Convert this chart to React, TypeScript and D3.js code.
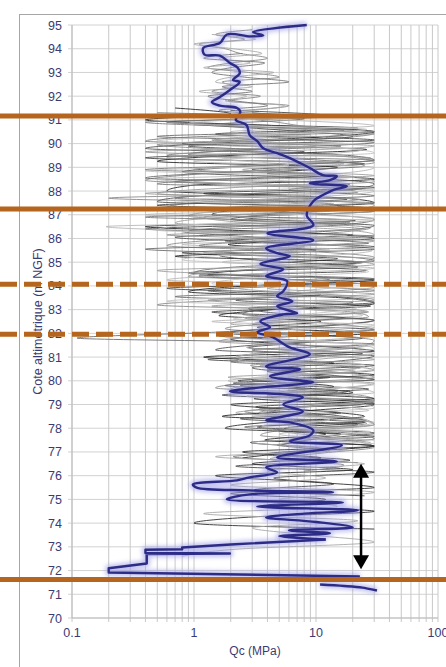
import * as d3 from 'd3';

// Qc profiles (MPa), one value every profileSteps[i] metres from profileTops[i]
const profileA = [2, 14, 0.6, 22, 1.5, 30, 0.9, 8, 0.4, 25, 3, 12, 0.7, 30, 1.2, 18, 0.5, 30, 2.5, 9, 0.4, 20, 1.8, 30, 0.8, 15, 3.5, 26, 1.1, 30, 0.6, 11, 2.2, 28, 1.4, 17, 3, 30, 1.6, 9, 2.8, 24, 1.3, 30, 4, 13, 2.1, 27, 1.7, 30, 3.2, 16, 2.4, 22, 5, 30, 2.9, 11, 3.8, 19, 2.2, 30, 4.5, 14, 3.1, 25];
const profileB = [1.2, 4, 9, 30, 12, 0.5, 3, 18, 30, 6, 1, 0.4, 7, 22, 0.2, 14, 2, 0.9, 5, 28, 11, 1.6, 0.6, 9, 30, 20, 3, 1.1, 13, 30, 8, 2.4, 0.5, 16, 27, 5, 1.8, 10, 30, 24, 4, 2.2, 12, 30, 7, 3, 1.5, 19, 30, 9, 2.6, 14, 26, 6, 3.5, 21, 30, 11, 4.2, 17, 8];
const profileC = [0.7, 2, 0.4, 5, 30, 9, 0.8, 26, 2, 0.5, 15, 4, 30, 1, 0.6, 12, 30, 3, 1.4, 21, 0.4, 7, 30, 1.9, 10, 0.7, 24, 5, 1.3, 30, 2.7, 0.9, 16, 30, 4.5, 1.6, 11, 3.3, 28, 2, 8, 30, 1.2, 14, 4, 30, 2.3, 6, 20, 3.1, 30, 9, 1.7, 25, 5.5, 12, 3.8, 30, 7, 2.5];
const profileD = [3, 8, 1.5, 17, 0.5, 30, 4, 0.9, 11, 25, 2, 0.4, 19, 6, 30, 1.3, 0.6, 8, 30, 14, 0.8, 3.5, 27, 0.4, 10, 30, 2.2, 1, 13, 6, 30, 0.7, 20, 4, 2.5, 30, 9, 1.5, 0.11, 30, 3, 12, 2, 23, 5, 30, 1.8, 15, 7, 30, 3.4, 10, 26, 2.6, 18, 30, 4.8, 13, 2.1, 22];
const profileE = [5, 30, 2, 12, 0.6, 24, 8, 1, 30, 16, 0.5, 4, 30, 10, 1.2, 20, 0.4, 30, 0.19, 2.5, 15, 0.8, 29, 11, 1.7, 30, 3, 0.6, 18, 7, 30, 2, 9, 24, 1.4, 30, 12, 3.6, 30, 6, 2.2, 20, 30, 8, 1.9, 14, 30, 4.4, 11, 27, 3, 30, 16, 5, 30];
const profileF = [1, 6, 20, 2, 0.4, 14, 30, 3, 0.8, 9, 30, 18, 1.1, 0.5, 25, 5, 2, 30, 12, 0.7, 7, 30, 1.6, 4, 22, 0.9, 30, 8, 1.3, 15, 30, 2.8, 6, 30, 11, 2, 24, 4, 1.5, 30, 13, 3, 9, 30, 2.4, 18, 6, 30, 4.1, 14, 25, 3.3, 30, 10, 5.2];
const profileG = [9, 1.5, 30, 4, 0.6, 17, 2.5, 30, 1, 11, 0.4, 23, 5, 30, 1.8, 0.7, 14, 30, 3, 8, 1.2, 30, 19, 0.5, 6, 30, 2.3, 12, 30, 1.4, 26, 4.5, 2, 16, 30, 7, 2.7, 30, 10, 3.5, 21, 1.9, 30, 13, 4, 30, 8, 2.2, 19, 30, 5, 12, 28];
const profileH = [3, 14, 5, 30, 2, 9, 25, 4, 1.8, 16, 6, 30, 2.5, 11, 3, 20, 1.5, 8, 30, 2, 12, 4, 30, 2.8, 1, 30];
const profileI = [6, 30, 3, 18, 1.5, 25, 4, 12, 2, 30, 5, 15, 1.2, 22, 3, 9, 30, 2.2, 0.8];
const profileJ = [0.5, 8, 0.4, 3, 30, 1.2, 0.4, 16, 2, 0.6, 30, 5, 0.4, 11, 1.5, 0.5, 24, 3, 0.7, 30, 1.8, 6, 0.4, 19, 2.4, 0.9, 30, 4, 1.1, 13];
const profileK = [8, 0.9, 26, 3, 0.5, 12, 30, 1.7, 6, 0.4, 21, 2.6, 30, 9, 0.7, 15, 4, 30, 1.1, 0.5, 18, 7, 30, 2.4, 0.8, 12, 27, 3.3, 1.4, 30, 6, 0.6, 22, 10, 2.1, 30, 4, 1.8, 16, 30, 5.5, 2.3, 25, 11, 3, 30, 7.5, 2.7, 19, 30, 4.6, 13, 3.6, 28, 9, 30];
const profileL = [0.6, 5, 30, 1.4, 10, 0.4, 28, 4.5, 1, 17, 30, 2.2, 0.5, 8, 30, 13, 1.2, 3, 24, 0.6, 30, 6.5, 1.5, 11, 30, 2.1, 0.9, 19, 4, 30, 1.3, 8.5, 27, 2.6, 14, 30, 3.7, 1.6, 21, 6, 30, 2.9, 12, 30, 5, 2, 17, 30, 8, 3.4, 24, 30, 6.5];
const profileT1 = [3, 1.5, 2.6, 1.1, 1.8, 2.4, 4, 2, 1.3, 2.8, 5, 1.7, 2.2, 1.4, 3.5, 1.9, 6, 2.5];
const profileT2 = [1.4, 3.2, 1, 2.1, 3.6, 1.6, 2.9, 1.2, 4.5, 2, 1.5, 3, 1.1, 2.7, 1.8, 5.5, 3];
const profileT3 = [2.5, 1.2, 3.8, 2, 1.4, 2.6, 6, 1.7, 3, 1.3, 2.2, 4, 1.6, 8];

const profiles = [profileA, profileB, profileC, profileD, profileE, profileF, profileG, profileH, profileI, profileJ, profileK, profileL, profileT1, profileT2, profileT3];
const profileTops = [91.4, 91.2, 91.5, 91.3, 91.0, 90.8, 90.4, 80.0, 78.0, 91.3, 91.1, 90.9, 94.8, 94.6, 93.8];
const profileSteps = [0.25, 0.25, 0.25, 0.25, 0.25, 0.25, 0.25, 0.25, 0.3, 0.2, 0.25, 0.25, 0.2, 0.2, 0.2];

// mean profile [elevation, Qc], smooth part
const meanProfile = [
  [95.0, 8.4], [94.7, 3.05], [94.56, 3.7], [94.52, 2.9], [94.6, 1.86], [94.24, 1.63], [94.03, 1.19],
  [93.75, 1.22], [93.71, 1.63], [93.4, 1.97], [93.19, 2.29], [92.97, 2.37], [92.68, 2.09], [92.6, 2.37],
  [92.26, 1.97], [91.96, 1.63], [91.75, 1.4], [91.6, 1.63], [91.5, 2.25], [91.33, 2.4], [91.0, 2.2],
  [90.78, 2.7], [90.36, 2.86], [90.1, 3.3], [89.8, 3.7], [89.6, 4.8], [89.39, 6.1], [89.18, 7.4],
  [88.97, 8.9], [88.67, 11.4], [88.63, 14.8], [88.46, 13.0], [88.33, 8.9], [88.2, 17.9], [88.04, 13.8],
  [87.83, 11.4], [87.57, 9.5], [86.98, 8.4], [86.56, 9.5], [86.22, 4.0], [85.93, 9.5], [85.59, 3.9],
  [85.38, 4.8], [85.25, 6.1], [84.92, 3.5], [84.7, 5.4], [84.41, 3.9], [84.2, 5.8], [83.78, 5.4],
  [83.57, 4.8], [83.35, 6.4], [83.14, 4.8], [82.85, 7.0], [82.8, 5.4], [82.51, 3.5], [82.26, 4.2],
  [82.05, 3.3], [81.84, 4.4], [81.41, 6.1], [81.12, 8.9], [80.61, 3.9], [80.49, 7.4], [80.19, 4.2],
  [79.98, 8.4], [79.94, 9.5], [79.56, 1.97], [79.43, 5.4], [79.3, 7.8], [79.0, 5.4], [78.71, 7.8],
  [78.33, 3.9], [78.25, 6.1], [77.91, 9.5], [77.7, 8.9], [77.45, 6.1], [77.28, 16.3], [76.77, 4.8],
  [76.6, 14.8], [76.35, 3.9], [76.14, 4.8], [75.93, 2.86], [75.8, 2.25], [75.63, 0.98], [75.5, 1.05],
  [75.38, 2.86], [75.3, 13.8], [75.21, 2.86], [75.0, 1.86], [74.87, 16.6], [74.7, 3.3], [74.54, 22],
  [74.4, 8], [74.24, 3.9], [74.05, 10], [73.82, 20], [73.7, 6], [73.57, 13], [73.45, 5], [73.31, 12],
];
// mean profile, stepped base
const meanBase = [
  [73.31, 12], [73.1, 2.0], [72.97, 0.8], [72.9, 0.8], [72.88, 0.4], [72.74, 0.4], [72.72, 1.97], [72.7, 0.41],
  [72.3, 0.41], [72.1, 0.2], [71.92, 0.2], [71.75, 22.9],
];
const meanTail = [[71.41, 10.8], [71.35, 17], [71.28, 24], [71.16, 31.6]];

const layerLevels = [91.16, 87.24, 71.62];
const dashedLevels = [84.07, 81.96];
const arrowQc = 23.4;
const arrowRange = [76.5, 72.05];

const yTicks = d3.range(70, 96);
const xTickLabels = [0.1, 1, 10, 100];

const greys = ['#4a4a4a', '#8c8c8c', '#2a2a2a', '#6e6e6e', '#b8b8b8', '#555', '#a0a0a0', '#333', '#aaa', '#7c7c7c', '#c2c2c2', '#989898', '#888', '#aaa', '#777'];

export default function App() {
  const width = 446;
  const height = 667;
  const x = d3.scaleLog().domain([0.1, 100]).range([72, 438]);
  const y = d3.scaleLinear().domain([70, 95]).range([618, 25]);
  const greyLine = d3
    .line<number[]>()
    .x((d) => x(d[1]))
    .y((d) => y(d[0]))
    .curve(d3.curveMonotoneY);
  const meanLine = d3
    .line<number[]>()
    .x((d) => x(d[1]))
    .y((d) => y(d[0]))
    .curve(d3.curveCatmullRom.alpha(0.5));
  const stepLine = d3
    .line<number[]>()
    .x((d) => x(d[1]))
    .y((d) => y(d[0]));

  const minorX: number[] = [];
  [0.1, 1, 10].forEach((dec) => {
    for (let k = 1; k <= 9; k++) minorX.push(dec * k);
  });
  minorX.push(100);

  const profileLines = profiles.map((vals, i) =>
    vals.map((q, j) => [profileTops[i] - j * profileSteps[i], q])
  );

  const meanPaths = [meanLine(meanProfile), stepLine(meanBase), meanLine(meanTail)];

  const labelColor = '#3b3b74';
  const font = 'Arial, "Liberation Sans", sans-serif';
  const orange = '#b5651d';
  const ax = x(arrowQc);

  return (
    <svg width={width} height={height} style={{ position: 'absolute', left: 0, top: 0, background: '#fff' }}>
      <defs>
        <filter id="glow" x="-10%" y="-10%" width="120%" height="120%">
          <feGaussianBlur stdDeviation="2" />
        </filter>
        <clipPath id="plot">
          <rect x={72} y={18} width={372} height={606} />
        </clipPath>
      </defs>
      <rect x={19.5} y={14.5} width={600} height={700} fill="none" stroke="#a6a6a6" />
      {yTicks.map((t) => (
        <line key={'gy' + t} x1={68} x2={438} y1={y(t)} y2={y(t)} stroke="#d2d2d2" strokeWidth={1} />
      ))}
      {minorX.map((t, i) => (
        <line key={'gx' + i} x1={x(t)} x2={x(t)} y1={25} y2={622} stroke="#c8c8c8" strokeWidth={1} />
      ))}
      <line x1={72} x2={72} y1={25} y2={618} stroke="#bdbdbd" />
      <line x1={72} x2={438} y1={618} y2={618} stroke="#bdbdbd" />
      <g clipPath="url(#plot)">
        {profileLines.map((p, i) => (
          <path key={'p' + i} d={greyLine(p) || ''} fill="none" stroke={greys[i]} strokeWidth={1} strokeOpacity={0.9} />
        ))}
        <g filter="url(#glow)" opacity={0.6}>
          {meanPaths.map((d, i) => (
            <path key={'g' + i} d={d || ''} fill="none" stroke="#9c9ce6" strokeWidth={7} strokeLinejoin="round" />
          ))}
        </g>
        {meanPaths.map((d, i) => (
          <path key={'m' + i} d={d || ''} fill="none" stroke="#2c2c86" strokeWidth={2.4} strokeLinejoin="round" />
        ))}
      </g>
      {yTicks.map((t) => (
        <text key={'ly' + t} x={62} y={y(t) + 4.5} textAnchor="end" fontFamily={font} fontSize={12.5} fill={labelColor}>
          {t}
        </text>
      ))}
      {xTickLabels.map((t) => (
        <text key={'lx' + t} x={x(t)} y={637} textAnchor="middle" fontFamily={font} fontSize={12.5} fill={labelColor}>
          {t}
        </text>
      ))}
      <text x={255} y={655} textAnchor="middle" fontFamily={font} fontSize={12} fill={labelColor}>
        Qc (MPa)
      </text>
      <text
        transform={`translate(42, ${(y(95) + y(70)) / 2}) rotate(-90)`}
        textAnchor="middle"
        fontFamily={font}
        fontSize={12.5}
        fill={labelColor}
      >
        Cote altimétrique (m NGF)
      </text>
      {layerLevels.map((l) => (
        <line key={'o' + l} x1={0} x2={width} y1={y(l)} y2={y(l)} stroke={orange} strokeWidth={5} />
      ))}
      {dashedLevels.map((l) => (
        <line key={'d' + l} x1={0} x2={width} y1={y(l)} y2={y(l)} stroke={orange} strokeWidth={5} strokeDasharray="17 7" />
      ))}
      <line x1={ax} x2={ax} y1={y(arrowRange[0]) + 10} y2={y(arrowRange[1]) - 10} stroke="#000" strokeWidth={2.5} />
      <path
        d={`M${ax},${y(arrowRange[0])} L${ax - 8},${y(arrowRange[0]) + 14} L${ax + 8},${y(arrowRange[0]) + 14} Z`}
        fill="#000"
      />
      <path
        d={`M${ax},${y(arrowRange[1])} L${ax - 8},${y(arrowRange[1]) - 14} L${ax + 8},${y(arrowRange[1]) - 14} Z`}
        fill="#000"
      />
    </svg>
  );
}
